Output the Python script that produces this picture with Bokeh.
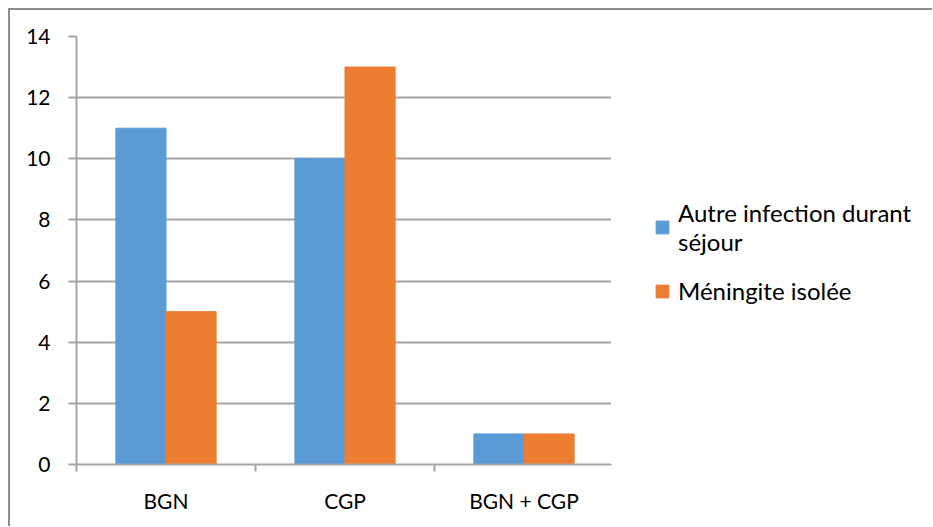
from bokeh.plotting import figure
from bokeh.layouts import row
from bokeh.models import ColumnDataSource, FixedTicker, Legend, LegendItem, Range1d
from bokeh.embed import file_html
from bokeh.resources import INLINE

categories = ["BGN", "CGP", "BGN + CGP"]
autre = [11, 10, 1]
meningite = [5, 13, 1]
series_names = ["Autre infection durant\nséjour", "Méningite isolée"]
y_ticks = [0, 2, 4, 6, 8, 10, 12, 14]

FONT = "Lato"
GRID = "#a6a6a6"
BORDER = "#8c8c8c"
BLUE = "#5b9bd5"
ORANGE = "#ed7d31"

idx = list(range(len(categories)))
centers = [i + 0.5 for i in idx]
bw = 0.28
src = ColumnDataSource(dict(
    xa=[c - bw / 2 for c in centers],
    xm=[c + bw / 2 for c in centers],
    autre=autre, men=meningite))

p = figure(width=603, height=518, output_backend="svg", toolbar_location=None,
           x_range=Range1d(0, len(categories)), y_range=Range1d(0, 14),
           min_border_left=66, min_border_right=0, min_border_top=26, min_border_bottom=64)
p.styles = {"border-top": f"2px solid {BORDER}", "border-left": f"2px solid {BORDER}"}
p.outline_line_color = None

p.vbar(x="xa", top="autre", width=bw, source=src, color=BLUE)
p.vbar(x="xm", top="men", width=bw, source=src, color=ORANGE)

p.xgrid.visible = False
p.ygrid.grid_line_color = GRID
p.ygrid.grid_line_width = 2
p.ygrid.ticker = FixedTicker(ticks=y_ticks)

ya = p.yaxis[0]
ya.ticker = FixedTicker(ticks=y_ticks)
ya.axis_line_color = GRID
ya.axis_line_width = 2
ya.major_tick_line_color = GRID
ya.major_tick_line_width = 2
ya.major_tick_out = 8
ya.major_tick_in = 0
ya.minor_tick_line_color = None
ya.major_label_standoff = 18
ya.major_label_text_font = FONT
ya.major_label_text_font_size = "21px"
ya.major_label_text_color = "#000000"

xa = p.xaxis[0]
xa.ticker = FixedTicker(ticks=centers, minor_ticks=[0] + [i + 1 for i in idx])
xa.major_label_overrides = {c: cat for c, cat in zip(centers, categories)}
xa.axis_line_color = GRID
xa.axis_line_width = 2
xa.major_tick_line_color = None
xa.major_tick_out = 0
xa.major_tick_in = 0
xa.minor_tick_line_color = GRID
xa.minor_tick_line_width = 2
xa.minor_tick_out = 7
xa.minor_tick_in = 0
xa.major_label_standoff = 16
xa.major_label_text_font = FONT
xa.major_label_text_font_size = "21px"
xa.major_label_text_color = "#000000"

# legend panel
q = figure(width=321, height=518, output_backend="svg", toolbar_location=None,
           x_range=Range1d(0, 1), y_range=Range1d(0, 1),
           min_border_left=0, min_border_right=0, min_border_top=0, min_border_bottom=0)
q.styles = {"border-top": f"2px solid {BORDER}"}
q.axis.visible = False
q.grid.visible = False
q.outline_line_color = None
la = q.vbar(x=[-10], top=[-10], width=0.1, color=BLUE)
lm = q.vbar(x=[-10], top=[-10], width=0.1, color=ORANGE)

legend = Legend(items=[LegendItem(label=series_names[0], renderers=[la]),
                       LegendItem(label=series_names[1], renderers=[lm])],
                location=(43, 159), padding=0, margin=0, spacing=20,
                glyph_width=16, glyph_height=16, label_standoff=8,
                border_line_color=None, background_fill_alpha=0,
                label_text_font=FONT, label_text_font_size="24px",
                label_text_line_height=1.3,
                label_text_color="#000000")
q.add_layout(legend, "center")

layout = row(p, q, spacing=0)
layout.margin = (8, 0, 0, 8)

open("out.html", "w").write(file_html(layout, INLINE))
